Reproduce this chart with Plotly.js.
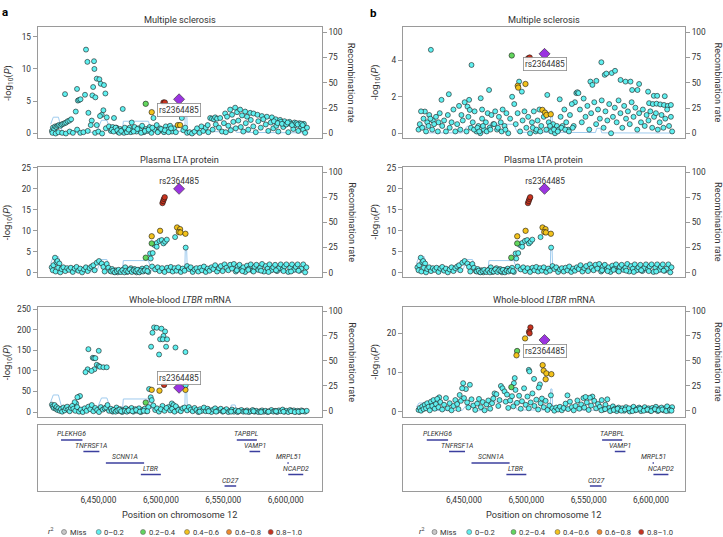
<!DOCTYPE html>
<html>
<head>
<meta charset="utf-8">
<script src="https://cdn.plot.ly/plotly-3.0.1.min.js"></script>
<style>
  html, body { margin: 0; padding: 0; background: #fff; }
  #chart { width: 723px; height: 537px; }
</style>
</head>
<body>
<div id="chart"></div>
<script>
// ---- data (positions in kb on chr12, values in -log10 P) ----

// lead SNP rs2364485
const leadPos = 6514.6;

// recombination rate (cM/Mb)
const recombPos   = [6411.8, 6412.6, 6413.9, 6418.0, 6420.3, 6421.2, 6448.5, 6450.8, 6452.5, 6456.8, 6459.5, 6461.0, 6469.2, 6470.0, 6490.0, 6492.7, 6519.2, 6519.6, 6520.6, 6521.2, 6555.5, 6556.5, 6559.5, 6560.5, 6618.2];
const recombRateA = [9, 12, 16, 16, 4, 1, 1, 9, 13, 13, 3, 0.5, 0.5, 12, 12, 2, 2, 26, 26, 2, 1.5, 6, 6, 1, 0.5];
const recombRateB = [4, 6, 8, 8, 2, 0.5, 0.5, 5, 7, 7, 1.5, 0.3, 0.3, 9, 9, 1, 1, 22, 22, 1, 0.8, 5, 5, 0.5, 0.3];

// a: multiple sclerosis
const msA_pos = [
  6412.8,6413.6,6414.6,6415.4,6416.4,6417.4,6418.4,6419.6,6420.6,6421.8,
  6423.0,6424.2,6425.4,6426.8,6428.2,6413.2,6415.8,6418.0,6421.0,6424.0,
  6427.0,6429.6,6423.3,6431.9,6433.0,6435.5,6432.9,6433.6,6434.6,6435.7,
  6440.1,6441.2,6446.5,6446.8,6448.7,6450.8,6451.9,6454.5,6445.8,6439.3,
  6445.2,6447.6,6455.6,6442.0,6454.0,6452.7,6451.3,6456.7,6444.7,6448.7,
  6443.9,6469.5,6462.5,6476.7,
  6438.0,6441.5,6447.4,6450.0,6453.0,6456.0,6458.5,6460.0,6461.5,6463.0,
  6464.5,6466.0,6467.5,6469.0,6470.5,6472.0,6473.5,6475.0,6476.0,6477.5,
  6479.0,6480.5,6482.0,6483.5,6485.0,6486.5,6488.0,6489.5,6491.0,6492.5,
  6494.1,6495.0,6496.7,6498.0,6499.4,6501.0,6502.5,6504.0,6505.5,6507.4,
  6509.0,6510.5,6512.0,6516.8,6518.0,6519.5,6521.0,6523.0,6525.0,6527.0,
  6529.0,6531.0,6532.5,6534.0,6536.0,6537.5,6539.5,6541.0,6542.5,6543.5,
  6545.0,6547.5,6538.0,6541.5,6544.0,6546.5,6549.0,6550.5,6551.5,6553.0,
  6555.5,6557.0,6559.5,6561.0,6563.5,6565.0,6567.5,6569.0,6571.5,6574.2,
  6577.4,6580.9,6584.9,6588.9,6592.0,6595.5,6599.0,6603.0,6607.0,6611.0,
  6614.5,6552.0,6554.0,6556.0,6558.0,6560.0,6562.0,6564.0,6566.0,6568.0,
  6570.0,6572.0,6574.0,6576.0,6578.0,6580.0,6582.0,6584.0,6586.0,6588.0,
  6590.0,6592.5,6594.0,6596.0,6598.0,6600.0,6602.0,6604.0,6606.0,6608.0,
  6610.0,6612.0,6614.0,6615.5,6617.0,
  6460.8,6462.2,6463.8,6465.2,6466.8,6468.2,6471.2,6472.8,6474.2,6478.2,
  6481.2,6484.2,6487.2,6490.2,6493.2,6497.5,6500.2,6503.2,6506.2,6508.2,
  6590.5,6593.5,6597.0,6600.5,6601.5,6605.0,6608.5,6609.5,6612.5,6613.5
];
const msA_logp = [
  0.4,0.9,0.7,1.1,1.0,1.2,1.3,1.2,1.4,1.5,
  1.6,1.7,1.9,2.0,2.2,0.1,0.0,0.2,0.1,0.0,
  0.3,0.1,6.1,3.4,0.6,0.1,6.9,5.1,5.2,5.3,
  13.0,11.1,11.2,10.0,8.5,8.4,7.7,7.5,7.2,6.0,
  5.9,5.6,6.2,3.2,3.6,2.9,2.7,2.5,2.0,1.3,
  1.3,3.8,2.4,1.7,
  0.2,0.4,0.1,0.3,0.0,0.8,1.1,0.4,1.0,0.6,
  0.9,0.2,0.7,0.5,0.1,0.6,0.3,0.9,0.2,0.5,
  1.0,0.3,0.8,0.5,1.2,0.2,0.7,0.4,1.0,0.1,
  2.4,0.6,1.3,0.3,0.8,0.5,0.2,1.1,0.6,1.2,
  0.3,0.8,0.2,2.4,0.5,0.9,0.1,0.2,0.0,0.3,
  0.8,0.1,1.1,0.4,0.9,1.3,2.4,2.3,2.2,2.5,
  2.3,2.4,0.2,0.6,1.4,0.9,0.3,1.6,3.1,2.6,
  3.7,2.9,4.0,3.3,3.7,2.8,3.4,2.6,3.2,3.1,
  2.9,2.7,2.6,2.5,2.2,2.1,1.9,1.8,1.7,1.6,
  1.5,0.2,1.2,0.5,1.8,0.8,2.0,1.0,0.3,1.6,
  0.6,2.1,1.1,0.2,1.9,0.9,2.2,1.4,0.4,1.7,
  0.8,1.2,0.3,1.8,1.0,1.4,0.2,1.5,0.7,1.3,
  0.4,1.1,0.6,0.1,0.9,
  0.6,0.3,0.9,0.5,0.1,0.4,0.9,0.2,0.6,0.3,
  0.7,0.1,0.4,0.6,0.9,0.2,0.7,0.5,0.2,0.8,
  1.9,1.6,1.5,1.4,1.7,1.3,1.6,1.4,1.5,1.3
];
const msA_hiPos = [6487.9, 6492.7, 6513.6, 6515.4, 6502.1, 6503.2];
const msA_hiP   = [4.6, 3.3, 1.3, 1.3, 4.8, 4.8];
const msA_hiBin = [2, 3, 3, 3, 5, 5];

// a and b: plasma LTA protein
const lta_pos = [
  6412.6,6414.0,6415.3,6416.5,6417.2,6418.8,
  6413.5,6415.8,6417.8,6419.5,6420.5,6422.0,6423.5,6425.0,6426.5,6428.0,
  6429.5,6431.0,6432.5,6434.0,6435.5,6437.0,6438.5,6440.0,6441.5,6443.0,
  6444.5,6446.0,6447.0,6448.7,6450.5,6452.7,6454.0,6456.7,6455.0,6458.0,
  6459.5,6461.0,6462.5,6464.0,6465.5,6467.0,6468.5,6470.0,6471.5,6473.0,
  6474.5,6476.0,6477.5,6479.0,6480.5,6482.0,6483.5,6485.0,6486.5,6488.5,
  6490.0,
  6491.4,6491.9,6493.5,6494.9,6496.7,6496.7,6498.9,6500.7,6502.1,6503.4,6504.8,6511.4,6519.9,
  6493.0,6495.5,6497.5,6499.0,6501.0,6503.0,6505.0,6506.5,6508.0,6509.5,
  6511.0,6512.5,6514.0,6516.0,6517.5,6519.0,6521.0,6522.5,6524.0,6525.5,
  6527.0,6528.5,6530.0,6531.5,6533.0,6534.5,6536.0,6537.5,6539.0,6540.5,
  6542.0,6543.5,6545.0,6546.5,6548.0,6549.5,6551.0,6552.5,6554.0,6555.5,
  6557.0,6558.5,6560.0,6561.5,6563.0,6564.5,6566.0,6567.5,6569.0,6570.5,
  6572.0,6573.5,6575.0,6576.5,6578.0,6579.5,6581.0,6582.5,6584.0,6585.5,
  6587.0,6588.5,6590.0,6591.5,6593.0,6594.5,6596.0,6597.5,6599.0,6600.5,
  6602.0,6603.5,6605.0,6606.5,6608.0,6609.5,6611.0,6612.5,6614.0,6615.5,6616.5,
  6460.2,6461.8,6463.2,6464.8,6466.2,6467.8,6469.2,6470.8,6472.2,6473.8,
  6475.2,6476.8,6478.2,6479.8,6481.2,6482.8,6484.2,6485.8,6487.2,6489.2,
  6560.8,6565.2,6570.0,6574.2,6580.2,6586.2,6592.2,6598.2,6604.2,6610.2
];
const lta_logp = [
  1.3,1.8,3.6,2.5,2.8,2.2,
  0.6,0.3,1.2,0.1,0.9,1.3,0.4,1.1,0.7,1.2,
  0.2,1.0,1.4,0.5,1.0,0.1,0.8,1.3,0.4,1.1,
  1.5,1.8,0.6,2.4,2.8,2.2,1.4,2.1,0.3,1.2,
  0.4,0.9,0.2,0.6,0.1,0.5,0.3,0.8,1.3,0.2,
  0.6,1.1,0.4,0.9,0.1,0.7,0.3,1.0,0.5,1.2,
  0.2,
  4.6,3.4,4.7,6.6,7.1,6.2,7.6,7.8,7.0,7.4,7.9,8.5,6.0,
  1.5,0.8,1.3,0.4,1.1,0.2,1.2,0.6,1.4,0.3,
  1.1,0.5,1.3,0.2,1.0,0.5,1.6,0.9,1.3,0.2,
  0.8,1.1,0.3,1.2,0.6,1.5,0.2,1.0,0.5,1.3,
  0.9,1.8,0.3,1.1,1.6,0.4,2.0,1.2,0.6,1.9,
  1.0,2.1,0.3,1.5,1.9,0.8,1.3,0.2,1.7,1.0,
  2.0,0.5,1.4,1.9,0.7,1.2,2.1,0.3,1.6,1.0,
  2.0,0.6,1.3,1.9,0.4,1.1,2.0,0.8,1.5,2.0,
  0.2,1.2,2.0,0.7,1.4,2.0,0.5,1.0,2.0,0.1,1.3,
  0.3,0.5,0.1,0.4,0.7,0.2,0.6,0.1,0.5,0.3,
  0.8,0.2,0.6,0.4,0.7,0.1,0.5,0.3,0.6,0.4,
  0.6,0.4,0.7,0.3,0.5,0.2,0.6,0.4,0.3,0.5
];
const lta_hiPos = [6492.7, 6487.9, 6492.7, 6499.4, 6513.0, 6515.4, 6514.4, 6515.7, 6519.7, 6501.3, 6501.9, 6502.5, 6503.1];
const lta_hiP   = [7.0, 3.6, 8.7, 10.0, 10.8, 10.4, 9.7, 9.6, 9.3, 16.6, 17.1, 17.6, 18.0];
const lta_hiBin = [2, 2, 3, 3, 3, 3, 3, 3, 3, 5, 5, 5, 5];

// a: whole-blood LTBR mRNA
const ltbrA_pos = [
  6493.3,6494.6,6496.7,6500.5,6503.4,6502.1,6499.4,6501.6,6505.0,6492.2,6504.2,6511.7,6498.6,6519.7,
  6442.0,6450.3,6445.5,6446.5,6447.6,6448.7,6450.3,6451.3,6454.0,6456.7,6446.8,6441.4,6439.7,6444.5,
  6434.3,6435.3,6433.2,6432.2,6431.0,
  6490.6,6519.9,6491.9,6492.7,6494.0,6501.3,6508.8,6510.1,6506.0,6513.0,
  6412.8,6413.5,6414.2,6415.0,6415.8,6416.5,6417.2,6418.0,6419.0,6420.0,
  6421.0,6422.0,6423.0,6424.0,6425.0,6426.0,6427.0,6428.0,6429.0,6430.0,
  6431.5,6433.0,6434.5,6436.0,6437.5,6439.0,6440.5,6442.0,6443.5,6444.7,
  6446.0,6447.5,6449.0,6450.5,6452.0,6453.5,6455.0,6456.2,6457.3,6458.5,
  6460.0,6461.5,6463.0,6464.5,6466.0,6467.5,6469.0,6470.5,6472.0,6473.5,
  6475.0,6476.5,6478.0,6479.5,6481.0,6482.5,6484.0,6485.5,6487.0,6488.5,
  6490.0,6495.5,6497.0,6498.5,6500.0,6503.0,6504.5,6507.5,6509.0,6511.0,
  6512.0,6514.0,6516.0,6517.5,6519.0,6521.0,6522.5,6524.0,6525.5,6527.0,
  6528.5,6530.0,6531.5,6533.0,6534.5,6536.0,6537.5,6539.0,6540.5,6542.0,
  6543.5,6545.0,6546.5,6548.0,6549.5,6551.0,6552.5,6554.0,6555.5,6557.0,
  6558.5,6560.0,6561.5,6563.0,6564.5,6566.0,6567.5,6569.0,6570.5,6572.0,
  6573.5,6575.0,6576.5,6578.0,6579.5,6581.0,6582.5,6584.0,6585.5,6587.0,
  6588.5,6590.0,6591.5,6593.0,6594.5,6596.0,6597.5,6599.0,6600.5,6602.0,
  6603.5,6605.0,6606.5,6608.0,6609.5,6611.0,6612.5,6614.0,6615.5,6616.8,
  6460.8,6462.2,6463.8,6465.2,6466.8,6468.2,6471.2,6472.8,6474.2,6477.2,
  6480.2,6483.2,6486.2,6489.2,6531.0,6538.2,6544.2,6550.2,6556.2,6562.2,
  6568.2,6574.2,6580.2,6586.2,6592.2,6598.2,6604.2,6607.2,6610.2,6613.2
];
const ltbrA_logp = [
  193,206,205,203,196,185,177,177,177,159,159,157,140,146,
  153,149,132,131,131,115,112,110,109,109,104,104,97,100,
  37,39,36,21,24,
  56,65,36,29,16,15,21,17,12,10,
  18,14,10,17,8,12,5,9,3,7,
  1,11,4,9,13,6,2,10,15,8,
  3,12,1,6,0,9,3,13,7,17,
  2,10,5,0,12,6,9,11,17,3,
  8,1,6,11,3,7,0,5,9,2,
  6,10,1,7,3,9,0,5,8,2,
  12,5,9,1,7,3,10,4,8,1,
  14,5,2,9,11,4,12,6,2,10,
  5,0,7,3,11,2,8,4,0,6,
  9,2,5,8,1,4,7,0,3,6,
  1,4,0,3,5,1,2,4,0,2,
  5,1,3,0,2,4,1,3,0,2,
  5,1,3,0,4,2,6,1,3,0,
  5,2,4,1,3,0,4,2,1,3,
  3,5,1,4,6,2,3,1,4,2,
  5,1,3,2,1,2,1,2,1,2,
  1,2,0,1,2,1,2,0,1,2
];
const ltbrA_hiPos = [6487.9, 6492.7, 6498.9, 6519.7, 6502.6];
const ltbrA_hiP   = [23, 54, 52, 54, 66];
const ltbrA_hiBin = [2, 3, 3, 3, 5];

// b: multiple sclerosis
const msB_pos = [
  6423.4,6456.0,6560.2,6556.2,6562.9,6564.2,6568.5,6571.2,6551.4,6553.0,
  6575.6,6579.6,6583.6,6584.9,6590.5,6597.7,6589.2,6602.3,6611.1,6605.0,
  6540.1,6541.0,6541.8,6526.8,6539.0,6598.5,6601.5,6604.5,6607.5,6610.5,
  6613.5,6616.0,
  6418.6,6422.1,6431.9,6437.8,6447.9,6452.8,6454.1,6454.6,6463.4,6470.1,
  6464.5,6494.2,6496.4,6516.8,6429.5,6425.0,
  6413.5,6414.5,6415.5,6416.5,6417.5,6419.5,6420.5,6421.5,6423.0,6424.5,
  6426.0,6427.5,6429.0,6430.5,6432.5,6434.0,6435.5,6437.0,6438.5,6440.0,
  6441.5,6443.0,6444.5,6446.0,6447.0,6449.0,6450.5,6452.0,6453.5,6455.5,
  6457.0,6458.5,6460.0,6461.5,6463.0,6464.5,6466.0,6467.5,6469.0,6470.5,
  6472.0,6473.5,6475.0,6476.5,6478.0,6479.5,6481.0,6482.5,6484.0,6485.5,
  6487.0,6488.6,6490.3,6491.5,6493.0,6495.0,6497.0,6498.5,6500.0,6501.5,
  6503.0,6504.5,6506.0,6507.5,6509.0,6510.5,6512.0,6514.0,6516.0,6518.0,
  6520.0,6521.5,6523.0,6524.5,6526.0,6527.5,6529.0,6530.5,6532.0,6533.5,
  6535.0,6536.5,6538.0,6543.0,6544.5,6546.0,6547.5,6549.0,6550.5,6552.0,
  6554.5,6556.0,6557.5,6559.0,6560.5,6562.0,6563.5,6565.0,6566.5,6568.0,
  6569.5,6571.0,6572.5,6574.0,6575.5,6577.0,6578.5,6580.0,6581.5,6583.0,
  6584.5,6586.0,6587.5,6589.0,6590.5,6592.0,6593.5,6595.0,6596.5,6598.0,
  6599.5,6601.0,6602.5,6604.0,6605.5,6607.0,6608.5,6610.0,6611.5,6613.0,
  6614.5,6616.0,6617.0,
  6458.0,6460.8,6462.2,6465.2,6468.2,6471.2,6474.2,6477.2,6480.2,6483.2,
  6505.2,6508.2,6511.2,6519.0,6522.2,6525.2,6528.2,6531.2,6534.2,6537.2
];
const msB_logp = [
  4.57,3.74,3.89,2.87,3.2,3.27,3.3,3.42,2.83,2.65,
  2.92,2.83,2.83,2.37,2.7,2.28,2.37,2.05,2.03,2.05,
  2.2,2.25,2.2,1.86,1.7,1.65,1.6,1.62,1.58,1.55,
  1.5,1.55,
  1.19,1.0,1.83,2.14,1.0,1.46,1.83,1.28,1.92,2.37,
  1.3,2.83,2.28,2.1,0.6,0.7,
  0.2,0.5,1.2,0.3,0.8,0.1,0.6,0.4,0.8,0.2,
  0.5,0.9,0.1,1.1,0.4,0.7,0.1,1.0,0.3,0.6,
  1.3,0.1,0.5,1.5,0.2,0.7,1.7,0.1,0.9,0.3,
  0.6,1.2,0.1,0.4,0.0,0.8,0.2,0.6,1.1,0.3,
  1.0,0.5,1.2,0.2,0.9,0.6,1.3,0.4,1.1,0.0,
  0.8,2.0,1.6,0.5,1.1,0.1,0.7,1.2,0.3,0.9,
  0.0,0.6,1.2,0.1,0.7,1.3,0.4,0.9,0.2,0.6,
  0.1,0.5,0.0,0.4,0.2,0.9,0.4,1.3,0.6,0.2,
  1.0,1.6,0.4,1.3,0.6,1.9,0.9,1.5,0.2,1.1,
  1.7,0.5,1.3,0.8,1.8,0.3,1.2,0.7,1.6,0.0,
  0.9,1.4,0.6,1.8,1.1,0.3,1.5,0.8,1.2,0.5,
  1.7,0.9,1.4,0.2,1.1,0.6,1.3,0.4,1.0,0.7,
  1.2,0.3,0.9,1.1,0.2,0.6,1.0,0.3,0.8,1.3,
  0.4,0.9,0.1,
  0.2,0.3,0.1,0.4,0.1,0.2,0.5,0.3,0.1,0.2,
  0.3,0.2,0.1,0.4,0.2,0.1,0.3,0.2,0.1,0.3
];
const msB_hiPos = [6488.3, 6493.1, 6493.5, 6499.3, 6512.9, 6515.0, 6516.1, 6519.6, 6501.4, 6502.7];
const msB_hiP   = [4.26, 2.6, 2.5, 2.7, 1.28, 1.13, 1.0, 1.04, 4.1, 4.15];
const msB_hiBin = [2, 3, 3, 3, 3, 3, 3, 3, 5, 5];

// b: whole-blood LTBR mRNA
const ltbrB_pos = [
  6502.0,6506.2,6510.9,6510.0,6490.7,6490.0,6519.7,6491.3,6449.3,6454.7,
  6451.5,6448.5,6446.5,6435.5,6430.1,6479.6,6480.9,6482.5,6474.5,6533.0,
  6545.8,6553.0,6551.0,6547.5,6502.5,
  6413.5,6414.5,6415.5,6416.5,6417.5,6418.5,6419.5,6420.5,6421.5,6422.5,
  6423.5,6424.5,6425.5,6426.5,6427.5,6428.5,6429.5,6431.0,6432.5,6434.0,
  6437.0,6438.5,6440.0,6441.5,6443.0,6444.5,6445.5,6447.5,6450.0,6452.5,
  6453.5,6456.0,6457.5,6459.0,6460.5,6462.0,6463.5,6465.0,6466.5,6468.0,
  6469.5,6471.0,6472.5,6473.5,6476.0,6477.5,6478.5,6483.5,6484.5,6485.5,
  6487.0,6488.5,6489.5,6492.5,6494.2,6495.5,6496.5,6498.2,6499.5,6500.9,
  6502.0,6503.5,6504.9,6506.5,6508.0,6509.5,6511.5,6512.5,6514.0,6515.5,
  6517.0,6518.5,6521.0,6522.5,6524.0,6525.5,6527.0,6528.5,6530.0,6531.5,
  6533.5,6535.0,6536.5,6538.0,6539.5,6541.0,6542.5,6544.0,6546.5,6548.5,
  6550.0,6552.0,6554.5,6556.0,6557.5,6559.0,6560.5,6562.0,6563.5,6565.0,
  6566.5,6568.0,6569.5,6571.0,6572.5,6574.0,6575.5,6577.0,6578.5,6580.0,
  6581.5,6583.0,6584.5,6586.0,6587.5,6589.0,6590.5,6592.0,6593.5,6595.0,
  6596.5,6598.0,6599.5,6601.0,6602.5,6604.0,6605.5,6607.0,6608.5,6610.0,
  6611.5,6613.0,6614.5,6616.0,6617.0,
  6560.2,6563.2,6567.2,6570.2,6573.2,6576.2,6579.2,6582.2,6585.2,6588.2,
  6591.2,6594.2,6597.2,6600.2,6603.2,6606.2,6609.2,6612.2,6615.2,6616.5
];
const ltbrB_logp = [
  10.7,8.4,7.0,6.2,8.6,7.3,4.2,5.6,7.3,6.9,
  5.8,6.0,4.3,3.5,3.7,6.6,6.0,5.2,4.7,4.2,
  3.5,3.9,3.6,3.8,10.3,
  0.5,1.0,0.3,1.4,0.7,1.8,0.9,2.2,1.3,0.4,
  2.6,1.5,3.0,0.8,2.0,3.3,1.2,2.5,0.6,1.8,
  0.9,2.2,0.4,1.5,3.0,2.0,0.7,2.8,3.5,2.4,
  1.1,3.2,1.6,0.5,2.1,3.3,1.2,2.5,0.4,1.9,
  2.9,0.8,2.2,3.4,4.5,1.5,3.0,2.6,4.4,1.0,
  2.9,4.0,1.4,2.3,4.1,0.8,2.7,6.0,1.8,3.9,
  0.9,2.4,4.7,1.5,3.1,0.6,2.2,3.4,1.2,2.8,
  0.5,1.6,0.9,0.3,1.1,0.6,1.3,0.4,1.0,2.1,
  0.7,2.6,1.2,0.4,1.5,2.9,0.8,1.9,1.1,2.4,
  0.5,1.6,2.8,0.9,2.0,1.3,3.0,0.6,1.8,3.2,
  1.0,0.4,1.4,0.8,0.2,1.1,0.5,0.9,0.3,1.2,
  0.6,0.1,0.9,1.3,0.4,0.8,1.1,0.2,0.7,1.2,
  0.5,0.9,0.3,1.0,0.6,1.3,0.2,0.8,1.1,0.4,
  0.9,1.4,0.3,0.7,1.2,
  0.4,0.7,0.2,0.5,0.8,0.3,0.6,0.9,0.2,0.5,
  0.8,0.3,0.6,0.2,0.7,0.4,0.6,0.2,0.5,0.3
];
const ltbrB_hiPos = [6492.6, 6488.0, 6499.0, 6492.1, 6513.1, 6513.9, 6516.1, 6520.1, 6515.5, 6503.3, 6502.2, 6502.6];
const ltbrB_hiP   = [15.5, 6.3, 18.7, 14.4, 11.9, 10.5, 9.8, 9.6, 8.3, 21.5, 20.4, 20.0];
const ltbrB_hiBin = [2, 2, 3, 3, 3, 3, 3, 3, 3, 5, 5, 5];

// genes
const geneNames = ['PLEKHG6', 'TNFRSF1A', 'SCNN1A', 'LTBR', 'CD27', 'TAPBPL', 'VAMP1', 'MRPL51', 'NCAPD2'];
const geneStart = [6420.1, 6438.0, 6456.0, 6484.0, 6551.0, 6560.8, 6571.0, 6601.3, 6602.0];
const geneEnd   = [6437.2, 6450.8, 6486.6, 6500.0, 6560.3, 6576.9, 6579.5, 6602.4, 6614.0];
const geneRow   = [1, 2, 3, 4, 5, 1, 2, 3, 4];

const xTickVals = [6450, 6500, 6550, 6600];
const xTickText = ['6,450,000', '6,500,000', '6,550,000', '6,600,000'];

const binNames = ['Miss', '0\u20130.2', '0.2\u20130.4', '0.4\u20130.6', '0.6\u20130.8', '0.8\u20131.0'];

// ---- drawing ----
const W = 723, H = 537;
const px = v => v / W;
const py = v => 1 - v / H;
const ax = n => (n === 1 ? '' : String(n));

const FONT = 'Roboto, "Liberation Sans", sans-serif';
const TXT = '#333';
const FRAME = '#9a9a9a';
const binColors = ['#c8c8c8', '#5ff0f0', '#62d65e', '#f3c21b', '#f08a2a', '#c8321e'];

const colDomains = [[0.0521, 0.445], [0.557, 0.9474]];
const rowDomains = [[0.743, 0.9497], [0.4842, 0.689], [0.2235, 0.4283]];
const geneDomain = [0.0857, 0.2086];
const xRanges = [[6401.4, 6628.8], [6400.8, 6627.3]];
const yLabelX = [8.3, 375.5];
const recLabelX = [351.7, 718];

const panels = [
  {col: 0, row: 0, title: 'Multiple sclerosis', pos: msA_pos, logp: msA_logp, hiPos: msA_hiPos, hiP: msA_hiP, hiBin: msA_hiBin,
   lead: 5.3, yr: [-0.7, 16.5], yt: [0, 5, 10, 15], rr: [-4.6, 105.2], rate: recombRateA, labelY: 3.6, box: true},
  {col: 0, row: 1, title: 'Plasma LTA protein', pos: lta_pos, logp: lta_logp, hiPos: lta_hiPos, hiP: lta_hiP, hiBin: lta_hiBin,
   lead: 20.0, yr: [-1.0, 25.2], yt: [0, 5, 10, 15, 20, 25], rr: [-4.3, 105], rate: recombRateA, labelY: 21.9, box: false},
  {col: 0, row: 2, title: 'Whole-blood <i>LTBR</i> mRNA', pos: ltbrA_pos, logp: ltbrA_logp, hiPos: ltbrA_hiPos, hiP: ltbrA_hiP, hiBin: ltbrA_hiBin,
   lead: 59, yr: [-12, 255.6], yt: [0, 50, 100, 150, 200, 250], rr: [-6, 104], rate: recombRateA, labelY: 84, box: true},
  {col: 1, row: 0, title: 'Multiple sclerosis', pos: msB_pos, logp: msB_logp, hiPos: msB_hiPos, hiP: msB_hiP, hiBin: msB_hiBin,
   lead: 4.35, yr: [-0.26, 5.82], yt: [0, 2, 4], rr: [-4.6, 105.2], rate: recombRateB, labelY: 3.8, box: true},
  {col: 1, row: 1, title: 'Plasma LTA protein', pos: lta_pos, logp: lta_logp, hiPos: lta_hiPos, hiP: lta_hiP, hiBin: lta_hiBin,
   lead: 20.0, yr: [-1.0, 25.2], yt: [0, 5, 10, 15, 20, 25], rr: [-4.3, 105], rate: recombRateA, labelY: 21.9, box: false},
  {col: 1, row: 2, title: 'Whole-blood <i>LTBR</i> mRNA', pos: ltbrB_pos, logp: ltbrB_logp, hiPos: ltbrB_hiPos, hiP: ltbrB_hiP, hiBin: ltbrB_hiBin,
   lead: 18.3, yr: [-1.3, 26.7], yt: [0, 10, 20], rr: [-6, 104], rate: recombRateB, labelY: 15.4, box: true}
];

const data = [];
const layout = {
  width: W, height: H,
  margin: {l: 0, r: 0, t: 0, b: 0},
  paper_bgcolor: '#fff', plot_bgcolor: '#fff',
  showlegend: false,
  font: {family: FONT, size: 8.3, color: TXT},
  annotations: [], shapes: []
};
const tickFont = {family: FONT, size: 8.3, color: TXT};

// text placed in figure pixels
function label(x, y, text, size, extra) {
  return Object.assign({
    xref: 'paper', yref: 'paper', x: px(x), y: py(y), xanchor: 'center', yanchor: 'middle',
    text: text, showarrow: false, font: {family: FONT, size: size, color: TXT}
  }, extra || {});
}

panels.forEach((p, i) => {
  const xn = i + 1, ybn = 2 * i + 1, ypn = 2 * i + 2;
  const xr = 'x' + ax(xn), yb = 'y' + ax(ybn), yp = 'y' + ax(ypn);
  const dom = colDomains[p.col], rdom = rowDomains[p.row];

  layout['xaxis' + ax(xn)] = {
    domain: dom, range: xRanges[p.col], anchor: yb,
    showline: true, mirror: true, linecolor: FRAME, linewidth: 1,
    showticklabels: false, ticks: '', showgrid: false, zeroline: false
  };
  layout['yaxis' + ax(ybn)] = {
    domain: rdom, range: p.rr, anchor: xr, side: 'right',
    showline: true, mirror: true, linecolor: FRAME, linewidth: 1,
    ticks: 'outside', ticklen: 4, tickcolor: FRAME, tickwidth: 1,
    tickvals: [0, 25, 50, 75, 100], tickfont: tickFont,
    showgrid: false, zeroline: false
  };
  layout['yaxis' + ax(ypn)] = {
    overlaying: yb, range: p.yr, anchor: xr, side: 'left',
    showline: false, ticks: 'outside', ticklen: 4, tickcolor: FRAME, tickwidth: 1,
    tickvals: p.yt, tickfont: tickFont, showgrid: false, zeroline: false
  };

  data.push({
    type: 'scatter', mode: 'lines', x: recombPos, y: p.rate, xaxis: xr, yaxis: yb,
    line: {color: '#9fcbee', width: 1}, hoverinfo: 'skip'
  });
  data.push({
    type: 'scatter', mode: 'markers', x: p.pos, y: p.logp, xaxis: xr, yaxis: yp,
    marker: {size: 5, color: binColors[1], line: {color: '#1a1a1a', width: 0.6}}
  });
  for (let b = 2; b <= 5; b++) {
    const xs = [], ys = [];
    p.hiBin.forEach((bin, k) => { if (bin === b) { xs.push(p.hiPos[k]); ys.push(p.hiP[k]); } });
    if (xs.length) {
      data.push({
        type: 'scatter', mode: 'markers', x: xs, y: ys, xaxis: xr, yaxis: yp,
        marker: {size: 5.4, color: binColors[b], line: {color: '#1a1a1a', width: 0.6}}
      });
    }
  }
  data.push({
    type: 'scatter', mode: 'markers', x: [leadPos], y: [p.lead], xaxis: xr, yaxis: yp,
    marker: {size: 8.5, symbol: 'diamond', color: '#9b34e0', line: {color: '#2a2a2a', width: 0.6}}
  });

  layout.annotations.push({
    xref: xr, yref: yp, x: leadPos, y: p.labelY, text: 'rs2364485', showarrow: false,
    font: {family: FONT, size: 8.3, color: TXT},
    bordercolor: p.box ? '#8a8a8a' : 'rgba(0,0,0,0)', borderwidth: p.box ? 0.8 : 0, borderpad: 1.2,
    bgcolor: p.box ? 'rgba(255,255,255,0.92)' : 'rgba(0,0,0,0)'
  });

  const topPx = (1 - rdom[1]) * H, botPx = (1 - rdom[0]) * H;
  const cxPx = (dom[0] + dom[1]) / 2 * W;
  const cyPx = (topPx + botPx) / 2;
  layout.annotations.push(label(cxPx, topPx - 8, p.title, 9.2));
  layout.annotations.push(label(yLabelX[p.col], cyPx, '-log<sub>10</sub>(<i>P</i>)', 9.5, {textangle: -90}));
  layout.annotations.push(label(recLabelX[p.col], cyPx, 'Recombination rate', 9.2, {textangle: 90}));
});

// gene tracks
[0, 1].forEach(c => {
  const xn = 7 + c, yn = 13 + c;
  const xr = 'x' + xn, yr = 'y' + yn;
  const dom = colDomains[c];
  layout['xaxis' + xn] = {
    domain: dom, range: xRanges[c], anchor: yr,
    showline: true, mirror: true, linecolor: FRAME, linewidth: 1,
    tickvals: xTickVals, ticktext: xTickText, tickfont: tickFont,
    ticks: 'outside', ticklen: 1, tickcolor: 'rgba(0,0,0,0)',
    showgrid: false, zeroline: false
  };
  layout['yaxis' + yn] = {
    domain: geneDomain, range: [5.43, -0.3], anchor: xr,
    showline: true, mirror: true, linecolor: FRAME, linewidth: 1,
    showticklabels: false, ticks: '', showgrid: false, zeroline: false
  };
  const gx = [], gy = [];
  geneNames.forEach((g, k) => {
    gx.push(geneStart[k], geneEnd[k], null);
    gy.push(geneRow[k], geneRow[k], null);
    layout.annotations.push({
      xref: xr, yref: yr, x: (geneStart[k] + geneEnd[k]) / 2, y: geneRow[k], yshift: 5.5,
      xanchor: 'center', yanchor: 'middle',
      text: '<i>' + g + '</i>', showarrow: false, font: {family: FONT, size: 6.9, color: TXT}
    });
  });
  data.push({
    type: 'scatter', mode: 'lines', x: gx, y: gy, xaxis: xr, yaxis: yr,
    line: {color: '#3b3f9e', width: 1.6}, hoverinfo: 'skip'
  });

  const cxPx = (dom[0] + dom[1]) / 2 * W;
  layout.annotations.push(label(cxPx, 514, 'Position on chromosome 12', 9.2));

  // r2 legend
  const off = c * 370.5;
  layout.annotations.push(label(51 + off, 531, '<i>r</i><sup>2</sup>', 7.6));
  const legendX = [64, 98.7, 143, 187, 229, 270.7];
  binNames.forEach((name, b) => {
    layout.shapes.push({
      type: 'circle', xref: 'paper', yref: 'paper', xsizemode: 'pixel', ysizemode: 'pixel',
      xanchor: px(legendX[b] + off), yanchor: py(532), x0: -2.5, x1: 2.5, y0: -2.5, y1: 2.5,
      fillcolor: binColors[b], line: {color: '#666', width: 0.6}
    });
    layout.annotations.push(label(legendX[b] + off + 3.5, 532, name, 7.6, {xanchor: 'left'}));
  });
});

// panel letters
layout.annotations.push(label(5, 12, '<b>a</b>', 11.5, {font: {family: FONT, size: 11.5, color: '#000'}}));
layout.annotations.push(label(373, 13, '<b>b</b>', 11.5, {font: {family: FONT, size: 11.5, color: '#000'}}));

Plotly.newPlot('chart', data, layout, {displayModeBar: false, staticPlot: true});
</script>
</body>
</html>
